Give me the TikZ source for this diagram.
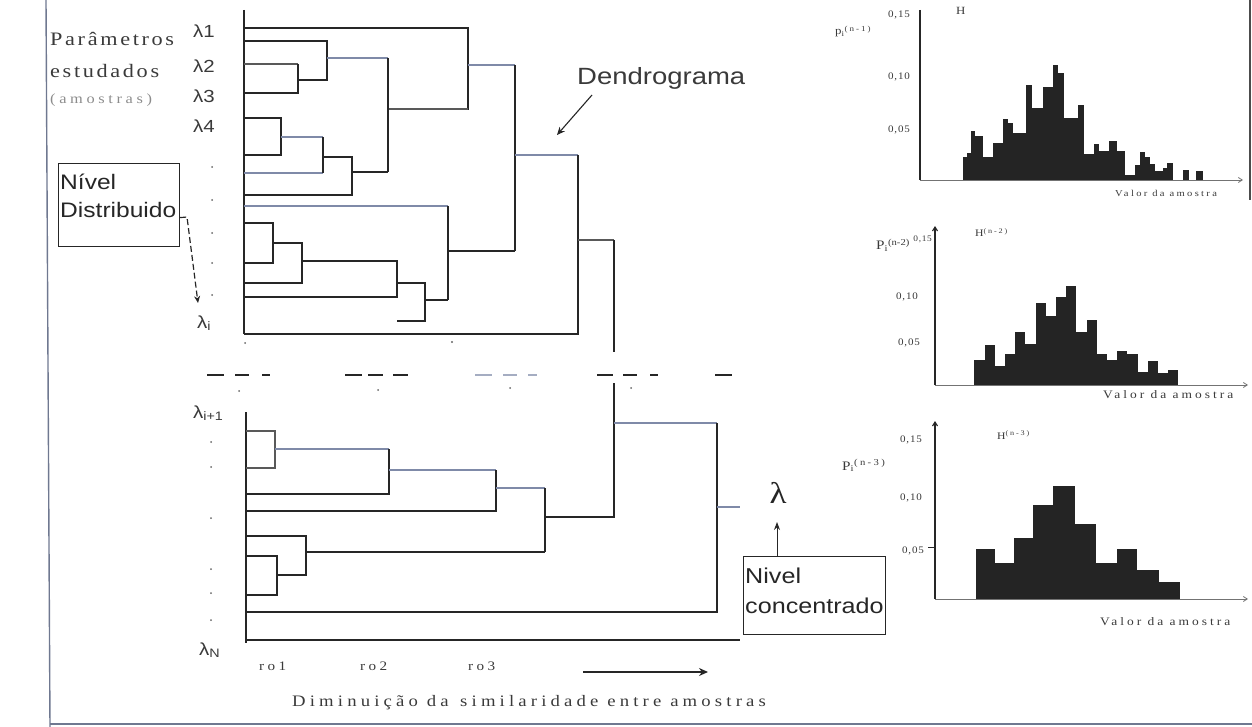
\documentclass[tikz,border=0pt]{standalone}
\usepackage{fontspec}
\setmainfont{Liberation Serif}[FakeStretch=1.17]
\setsansfont{Liberation Sans}[FakeStretch=1.17]
\newfontfamily\spa{Liberation Serif}[FakeStretch=1.17,LetterSpace=14]
\newfontfamily\spb{Liberation Serif}[FakeStretch=1.17,LetterSpace=26]
\newfontfamily\spc{Liberation Serif}[FakeStretch=1.1,LetterSpace=8]
\usetikzlibrary{arrows.meta}
\definecolor{ink}{HTML}{262626}
\definecolor{blu}{HTML}{7F8AA8}
\definecolor{txt}{HTML}{3A3A3A}
\definecolor{faint}{HTML}{8C8C8C}
\definecolor{barc}{HTML}{242424}
\definecolor{frame}{HTML}{6F7890}
\begin{document}
\begin{tikzpicture}[x=1pt,y=-1pt,
  dk/.style={line width=2pt,draw=ink,line join=miter},
  lt/.style={line width=1.1pt,draw=blu},
  mid/.style={line width=1.4pt,draw=black!65},
  sep/.style={line width=2pt,draw=ink},
  sepl/.style={line width=2pt,draw=blu!70},
  lab/.style={font=\sffamily\fontsize{17.5}{20}\selectfont,text=txt,inner sep=0,anchor=base west},
  boxtxt/.style={font=\sffamily\fontsize{21}{24}\selectfont,text=ink,inner sep=0,anchor=base west},
  tick/.style={font=\spc\fontsize{10}{12}\selectfont,text=txt,inner sep=0,anchor=base east},
  small/.style={font=\spb\fontsize{11.5}{13}\selectfont,text=txt,inner sep=0,anchor=base west},
  ax/.style={line width=1.1pt,draw=ink},
  axarr/.style={line width=0.8pt,draw=black!55,-{Straight Barb[length=4pt,width=5pt]}},
  dot/.style={fill=black!60}
]
\useasboundingbox (0,0) rectangle (1252,727);
% page frame
\draw[line width=1.4pt,draw=frame] (46,0) -- (50,727);
\draw[line width=1.6pt,draw=frame] (50,724) -- (1252,724);
\draw[line width=1.2pt,draw=black!70] (1250,0) -- (1250,200);

% ---------- left labels ----------
\node[font=\spa\fontsize{19}{22}\selectfont,text=txt,inner sep=0,anchor=base west] (par) at (50,46) {Parâmetros};
\node[font=\spa\fontsize{19}{22}\selectfont,text=txt,inner sep=0,anchor=base west] (est) at (50,78) {estudados};
\node[font=\spb\fontsize{14}{16}\selectfont,text=faint,inner sep=0,anchor=base west] (amo) at (50,104) {(amostras)};

\node[lab] (l1) at (193,38) {λ1};
\node[lab] (l2) at (193,73) {λ2};
\node[lab] (l3) at (193,103) {λ3};
\node[lab] (l4) at (193,133) {λ4};
\node[lab] (li) at (197,328) {λ\textsubscript{i}};
\node[lab] (lip) at (193,418) {λ\textsubscript{i+1}};
\node[lab] (lN) at (199,655) {λ\textsubscript{N}};
\foreach \yy in {167,200,233,263,295} \fill[dot] (212,\yy) circle (1pt);
\foreach \yy in {442,467,518,569,593,620} \fill[dot] (211,\yy) circle (1pt);

% Nivel Distribuido box
\node[draw=ink,line width=1.2pt,minimum width=121pt,minimum height=83pt,anchor=north west,inner sep=0] (boxD) at (58,163) {};
\node[boxtxt] (bd1) at (60,190) {Nível};
\node[boxtxt] (bd2) at (60,218) {Distribuido};
\coordinate (dA) at (187,217);
\coordinate (dB) at (198,303);
\draw[line width=1.2pt,draw=ink,dash pattern=on 6pt off 3pt,-{Stealth[length=7pt,width=6pt]}] ([yshift=-12.5pt]boxD.east) -- (dA) -- (dB);

% ---------- top dendrogram ----------
\draw[dk] (244,10) -- (244,334);
% lambda2-3 group
\draw[dk] (244,41) -- (327,41) -- (327,80) -- (298,80);
\draw[mid] (244,64) -- (298,64);
\draw[dk] (298,64) -- (298,93) -- (244,93);
\draw[lt] (327,58) -- (388,58);
% lambda1
\draw[dk] (244,28) -- (468,28) -- (468,110);
\draw[mid] (388,109) -- (468,109);
% lambda4 group
\draw[dk] (244,118) -- (281,118) -- (281,155) -- (244,155);
\draw[lt] (281,137) -- (323,137);
\draw[lt] (244,173) -- (323,173);
\draw[dk] (323,137) -- (323,173);
\draw[dk] (323,157) -- (352,157) -- (352,195) -- (244,195);
\draw[dk] (352,172) -- (388,172);
\draw[dk] (388,58) -- (388,172);
% merge
\draw[lt] (468,65) -- (515,65);
\draw[dk] (515,65) -- (515,251);
% lower group
\draw[lt] (244,206) -- (448,206);
\draw[dk] (448,206) -- (448,300);
\draw[dk] (244,223) -- (273,223) -- (273,263) -- (244,263);
\draw[dk] (273,243) -- (302,243) -- (302,283) -- (244,283);
\draw[dk] (302,261) -- (397,261) -- (397,297) -- (244,297);
\draw[dk] (397,283) -- (425,283) -- (425,321) -- (397,321);
\draw[dk] (425,300) -- (448,300);
\draw[dk] (448,251) -- (515,251);
\draw[lt] (515,155) -- (578,155);
\draw[dk] (578,155) -- (578,334) -- (244,334);
\draw[mid] (578,240) -- (614,240);
\draw[dk] (614,240) -- (614,352);
\fill[dot] (245,343) circle (1pt);
\fill[dot] (452,342) circle (1.2pt);

% Dendrograma label
\node[font=\sffamily\fontsize{23.5}{26}\selectfont,text=txt,inner sep=0,anchor=base west] (dendro) at (577,85) {Dendrograma};
\coordinate (dTip) at (557,135);
\draw[line width=1.1pt,draw=ink,-{Stealth[length=8pt,width=7pt]}] ([xshift=15pt,yshift=-10pt]dendro.base west) -- (dTip);

% ---------- separator ----------
\foreach \a/\b in {207/224,235/249,262/270,345/362,368/383,393/408,597/613,623/637,650/658,715/732}
  \draw[sep] (\a,375) -- (\b,375);
\foreach \a/\b in {475/492,503/517,528/537}
  \draw[sepl] (\a,375) -- (\b,375);
\foreach \xx/\yy in {239/391,378/390,510/388,631/388} \fill[dot] (\xx,\yy) circle (1pt);

% ---------- bottom dendrogram ----------
\draw[dk] (246,412) -- (246,643);
\draw[mid] (246,431) -- (275,431) -- (275,468) -- (246,468);
\draw[lt] (275,449) -- (389,449);
\draw[dk] (389,449) -- (389,494) -- (246,494);
\draw[lt] (389,470) -- (496,470);
\draw[dk] (496,470) -- (496,511) -- (246,511);
\draw[lt] (496,488) -- (545,488);
\draw[dk] (545,488) -- (545,552);
\draw[dk] (246,536) -- (306,536) -- (306,575) -- (277,575);
\draw[dk] (246,556) -- (277,556) -- (277,595) -- (246,595);
\draw[dk] (306,552) -- (545,552);
\draw[dk] (545,517) -- (614,517) -- (614,383);
\draw[lt] (614,423) -- (717,423);
\draw[dk] (717,423) -- (717,612) -- (246,612);
\draw[lt] (717,507) -- (740,507);
\draw[dk] (246,640) -- (740,640);

% lambda and concentrado box
\node[font=\fontsize{30}{32}\selectfont,text=ink,inner sep=0,anchor=base] (lam) at (778,503) {λ};
\node[draw=ink,line width=1.2pt,minimum width=142pt,minimum height=78pt,anchor=north west,inner sep=0] (boxC) at (743,556) {};
\node[boxtxt,font=\sffamily\fontsize{21.5}{24}\selectfont] (bc1) at (745,583) {Nivel};
\node[boxtxt,font=\sffamily\fontsize{21.5}{24}\selectfont] (bc2) at (745,613) {concentrado};
\coordinate (cTip) at (777,522);
\draw[line width=1pt,draw=ink,-{Stealth[length=8pt,width=6pt]}] ([xshift=34pt]boxC.north west) -- (cTip);

% axis labels bottom
\node[font=\spb\fontsize{13}{15}\selectfont,text=txt,inner sep=0,anchor=base west] (ro1) at (259,670) {ro1};
\node[font=\spb\fontsize{13}{15}\selectfont,text=txt,inner sep=0,anchor=base west] (ro2) at (360,670) {ro2};
\node[font=\spb\fontsize{13}{15}\selectfont,text=txt,inner sep=0,anchor=base west] (ro3) at (468,670) {ro3};
\coordinate (ar1) at (583,672);
\coordinate (ar2) at (708,672);
\draw[line width=2pt,draw=ink,-{Stealth[length=9pt,width=8pt]}] (ar1) -- (ar2);
\node[font=\spb\fontsize{16}{18}\selectfont,text=txt,inner sep=0,anchor=base west] (dim) at (292,706) {Diminuição da\, similaridade entre amostras};

% ---------- histogram 1 ----------
\foreach \a/\b/\t in {963/967/157,967/971/153,971/975/131,975/979/136,979/983/136,983/993/157,993/998/143,998/1003/143,1003/1008/119,1008/1013/123,1013/1020/133,1020/1026/133,1026/1032/85,1032/1037/108,1037/1043/108,1043/1048/87,1048/1053/87,1053/1058/65,1058/1064/73,1064/1073/118,1073/1078/118,1078/1084/105,1084/1094/154,1094/1099/144,1099/1109/151,1109/1117/141,1117/1125/151,1125/1135/175,1135/1140/165,1140/1145/152,1145/1150/157,1150/1155/164,1155/1163/171,1163/1167/168,1167/1173/163,1183/1189/170,1196/1203/171}
  \fill[barc] (\a,180) rectangle (\b,\t);
\draw[ax] (920,10) -- (920,180);
\draw[axarr] (920,180) -- (1243,180);
\node[tick] (h1a) at (910,18) {0,15};
\node[tick] (h1b) at (910,80) {0,10};
\node[tick] (h1c) at (910,133) {0,05};
\node[small,font=\spb\fontsize{11}{12}\selectfont] (h1p) at (835,35) {p\textsubscript{i}\textsuperscript{(n-1)}};
\node[small,font=\spb\fontsize{11}{12}\selectfont] (h1h) at (956,15) {H};
\node[small,font=\spb\fontsize{9}{11}\selectfont] (h1v) at (1115,197) {Valor da amostra};

% ---------- histogram 2 ----------
\foreach \a/\b/\t in {974/985/360,985/995/345,995/1005/366,1005/1015/354,1015/1025/332,1025/1036/344,1036/1046/303,1046/1056/316,1056/1066/297,1066/1076/286,1076/1087/332,1087/1097/320,1097/1107/354,1107/1117/360,1117/1127/351,1127/1138/354,1138/1148/372,1148/1158/361,1158/1168/373,1168/1178/370}
  \fill[barc] (\a,385) rectangle (\b,\t);
\draw[line width=1.1pt,draw=ink,-{Straight Barb[length=4pt,width=5pt]}] (935,385) -- (935,226);
\draw[axarr] (935,385) -- (1248,385);
\node[tick,font=\spc\fontsize{8.5}{10}\selectfont] (h2a) at (932,242) {0,15};
\node[tick] (h2b) at (918,299) {0,10};
\node[tick] (h2c) at (920,345) {0,05};
\node[small,font=\rmfamily\fontsize{13}{15}\selectfont] (h2p) at (876,250) {P\textsubscript{i}\textsuperscript{(n-2)}};
\node[small,font=\spb\fontsize{10}{12}\selectfont] (h2h) at (975,237) {H\textsuperscript{(n-2)}};
\node[small] (h2v) at (1103,398) {Valor da amostra};

% ---------- histogram 3 ----------
\foreach \a/\b/\t in {976/995/549,995/1014/563,1014/1033/538,1033/1053/505,1053/1075/486,1075/1096/524,1096/1117/563,1117/1137/549,1137/1159/570,1159/1180/582}
  \fill[barc] (\a,599) rectangle (\b,\t);
\draw[line width=1.1pt,draw=ink,-{Straight Barb[length=4pt,width=5pt]}] (935,599) -- (935,421);
\draw[axarr] (935,599) -- (1248,599);
\draw[line width=0.8pt,draw=ink] (928,547) -- (935,547);
\node[tick] (h3a) at (922,442) {0,15};
\node[tick] (h3b) at (922,500) {0,10};
\node[tick] (h3c) at (924,553) {0,05};
\node[small,font=\spb\fontsize{13}{15}\selectfont] (h3p) at (842,470) {P\textsubscript{i}\textsuperscript{(n-3)}};
\node[small,font=\spb\fontsize{10}{12}\selectfont] (h3h) at (997,439) {H\textsuperscript{(n-3)}};
\node[small] (h3v) at (1100,625) {Valor da amostra};
\end{tikzpicture}
\end{document}
